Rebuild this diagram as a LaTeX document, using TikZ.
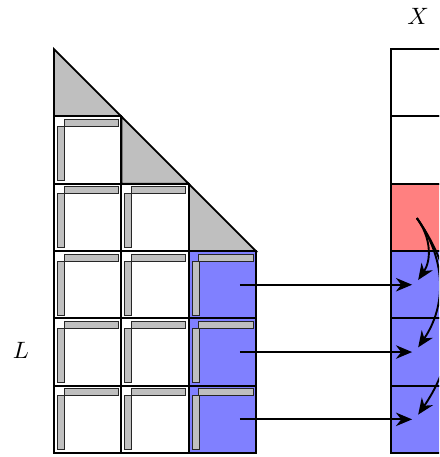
\documentclass[tikz,border=0pt]{standalone}
\usetikzlibrary{arrows.meta}
\begin{document}
\begin{tikzpicture}[
  cellbox/.style={draw=black, line width=0.8pt},
  bar/.style={fill=gray!50, draw=black!85, line width=0.4pt},
  tri/.style={fill=gray!50, draw=black, line width=0.8pt},
  arr/.style={-{Stealth[length=2.4mm,width=2mm]}, line width=0.8pt},
  lab/.style={inner sep=0pt}
]
\path[use as bounding box] (-0.802,-0.059) rectangle (5.72,6.73);
\begin{scope}
\clip (-0.802,-0.059) rectangle (5.72,6.73);
% triangles
\draw[tri] (0,5) -- (0,6) -- (1,5) -- cycle;
\draw[tri] (1,4) -- (1,5) -- (2,4) -- cycle;
\draw[tri] (2,3) -- (2,4) -- (3,3) -- cycle;
% white cells
\foreach \c/\n in {0/4,1/3} {
  \foreach \r in {0,...,\n} {
    \draw[cellbox, fill=white] (\c,\r) rectangle ++(1,1);
    \draw[bar] (\c+0.15,\r+0.85) rectangle (\c+0.96,\r+0.955);
    \draw[bar] (\c+0.05,\r+0.05) rectangle (\c+0.155,\r+0.85);
  }
}
% blue cells
\foreach \r in {0,1,2} {
  \draw[cellbox, fill=blue!50] (2,\r) rectangle ++(1,1);
  \draw[bar] (2.15,\r+0.85) rectangle (2.96,\r+0.955);
  \draw[bar] (2.05,\r+0.05) rectangle (2.155,\r+0.85);
}
% X column
\foreach \r/\col in {0/blue!50,1/blue!50,2/blue!50,3/red!50,4/white,5/white} {
  \draw[cellbox, fill=\col] (5,\r) rectangle ++(1,1);
}
% arrows
\coordinate (red) at (5.39,3.49);
\foreach \r in {0,1,2} {
  \coordinate (s\r) at (2.76,\r+0.5);
  \coordinate (t\r) at (5.32,\r+0.5);
  \coordinate (b\r) at (5.41,\r+0.57);
  \draw[arr] (s\r) -- (t\r);
  \draw[arr] (red) to[bend left=35] (b\r);
}
\end{scope}
\node[lab] (Llab) at (-0.49,1.52) {$L$};
\node[lab] (Xlab) at (5.41,6.48) {$X$};
\end{tikzpicture}
\end{document}
